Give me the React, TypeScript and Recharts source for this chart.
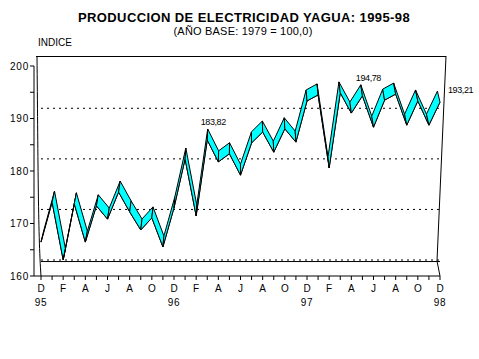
import React from "react";
import { LineChart, Line, XAxis, YAxis, ReferenceLine, LabelList } from "recharts";

// meses Dic 1995 - Dic 1998
const periods = [
  "Dic 1995",
  "Ene 1996", "Feb 1996", "Mar 1996", "Abr 1996", "May 1996", "Jun 1996",
  "Jul 1996", "Ago 1996", "Sep 1996", "Oct 1996", "Nov 1996", "Dic 1996",
  "Ene 1997", "Feb 1997", "Mar 1997", "Abr 1997", "May 1997", "Jun 1997",
  "Jul 1997", "Ago 1997", "Sep 1997", "Oct 1997", "Nov 1997", "Dic 1997",
  "Ene 1998", "Feb 1998", "Mar 1998", "Abr 1998", "May 1998", "Jun 1998",
  "Jul 1998", "Ago 1998", "Sep 1998", "Oct 1998", "Nov 1998", "Dic 1998",
];

const indexValues = [
  158.5,
  168.4, 154.1, 168.0, 158.5, 167.5, 164.2,
  170.9, 166.0, 161.5, 164.5, 157.3, 167.0,
  179.1, 165.0, 183.82, 178.4, 180.4, 175.1,
  183.1, 185.8, 180.8, 186.6, 183.3, 193.5,
  195.0, 176.9, 195.5, 190.5, 194.78, 187.0,
  193.7, 195.2, 187.5, 193.5, 187.5, 193.21,
];

const valueLabels = [
  "",
  "", "", "", "", "", "",
  "", "", "", "", "", "",
  "", "", "183,82", "", "", "",
  "", "", "", "", "", "",
  "", "", "", "", "194,78", "",
  "", "", "", "", "", "193,21",
];

const axisTicks = [160, 165, 170, 175, 180, 185, 190, 195, 200];
const backGridValues = [190, 180, 170, 160];
const backDomain = [156.84, 198.36];

const data = periods.map((period, i) => ({
  period,
  value: indexValues[i],
  label: valueLabels[i],
}));

const FONT = "'Liberation Sans', Arial, sans-serif";
const RIBBON_DEPTH = 11;
const first = periods[0];
const last = periods[periods.length - 1];

// profundidad del listón: se inclina hacia el centro del gráfico
const depthX = (x: number) => (2.6 * (240 - x)) / 200;

const renderRibbon = (props: any) => {
  const { cx, cy, index, points } = props;
  const next = points ? points[index + 1] : null;
  if (!next || cx == null || cy == null) return <g key={`rib-${index}`} />;
  const bx1 = cx + depthX(cx);
  const bx2 = next.x + depthX(next.x);
  const pts = `${cx},${cy} ${next.x},${next.y} ${bx2},${next.y - RIBBON_DEPTH} ${bx1},${cy - RIBBON_DEPTH}`;
  return (
    <polygon key={`rib-${index}`} points={pts} fill="#00ffff" stroke="#000" strokeWidth={1} strokeLinejoin="round" />
  );
};

const renderValueLabel = (props: any) => {
  const { x, y, value, index } = props;
  if (!value) return null;
  const isLast = index === periods.length - 1;
  return (
    <text
      key={`lbl-${index}`}
      x={isLast ? x + 8 : x + 6}
      y={isLast ? y - 9 : y - 15}
      textAnchor={isLast ? "start" : "middle"}
      fontSize={9}
      letterSpacing={-0.4}
      fontFamily={FONT}
      fill="#000"
    >
      {value}
    </text>
  );
};

const MonthTick = (props: any) => {
  const { x, y, payload } = props;
  const i = periods.indexOf(payload.value);
  if (i % 2 !== 0) return <g />;
  const p = periods[i];
  const isDec = p.startsWith("Dic");
  return (
    <g>
      <text x={x} y={y + 10} textAnchor="middle" fontSize={10} fontFamily={FONT} fill="#000">
        {p.charAt(0)}
      </text>
      {isDec && (
        <text x={x} y={y + 24} textAnchor="middle" fontSize={10} letterSpacing={0.6} fontFamily={FONT} fill="#000">
          {p.slice(-2)}
        </text>
      )}
    </g>
  );
};

export default function App() {
  return (
    <div style={{ position: "absolute", left: 0, top: 0, width: 479, height: 359, background: "#fff" }}>
      <LineChart width={479} height={359} data={data} margin={{ top: 66, right: 39, bottom: 43, left: 4 }}>
        <XAxis
          xAxisId="data"
          dataKey="period"
          interval={0}
          height={40}
          tickSize={4}
          tickMargin={2}
          axisLine={{ stroke: "#000" }}
          tickLine={{ stroke: "#000" }}
          padding={{ left: 7, right: 0 }}
          tick={<MonthTick />}
        />
        <YAxis
          yAxisId="axis"
          type="number"
          width={30}
          domain={[160, 200]}
          ticks={axisTicks}
          allowDataOverflow
          interval={0}
          tickSize={4}
          tickMargin={1}
          axisLine={{ stroke: "#000" }}
          tickLine={{ stroke: "#000" }}
          tickFormatter={(v: number) => (v % 10 === 0 ? String(v) : "")}
          tick={{ fontSize: 10, fill: "#000", fontFamily: FONT, letterSpacing: 0.8 }}
        />
        <YAxis yAxisId="back" type="number" hide domain={backDomain} allowDataOverflow />
        <YAxis yAxisId="data" type="number" hide domain={[150.09, 202.17]} allowDataOverflow />

        {backGridValues.map((v) => (
          <ReferenceLine
            key={`grid-${v}`}
            xAxisId="data"
            yAxisId="back"
            ifOverflow="visible"
            segment={[{ x: first, y: v }, { x: last, y: v }]}
            stroke="#000"
            strokeDasharray="2 4"
          />
        ))}
        <ReferenceLine
          xAxisId="data"
          yAxisId="back"
          ifOverflow="visible"
          segment={[{ x: first, y: 159.7 }, { x: last, y: 159.7 }]}
          stroke="#000"
        />

        <Line
          xAxisId="data"
          yAxisId="data"
          type="linear"
          dataKey="value"
          stroke="#000"
          strokeWidth={1}
          dot={renderRibbon}
          activeDot={false}
          isAnimationActive={false}
        >
          <LabelList dataKey="label" content={renderValueLabel} />
        </Line>
      </LineChart>

      <svg width={479} height={359} style={{ position: "absolute", left: 0, top: 0, pointerEvents: "none", zIndex: 5 }}>
        <text x={244} y={21.5} textAnchor="middle" fontSize={13} fontWeight="bold" letterSpacing={0.4} fontFamily={FONT} fill="#000">
          PRODUCCION DE ELECTRICIDAD YAGUA: 1995-98
        </text>
        <text x={243} y={35} textAnchor="middle" fontSize={11} letterSpacing={0.2} fontFamily={FONT} fill="#000">
          (AÑO BASE: 1979 = 100,0)
        </text>
        <text x={38} y={46} fontSize={10} fontFamily={FONT} fill="#000">
          INDICE
        </text>
        {/* marco 3D */}
        <path d="M36,56.5 H446" stroke="#000" strokeWidth={1.2} fill="none" />
        <path d="M446,56 L437,261 L440,276" stroke="#000" strokeWidth={1} fill="none" />
        <path d="M37,57 C38,150 38,235 41,276" stroke="#000" strokeWidth={1} fill="none" />
      </svg>
    </div>
  );
}
